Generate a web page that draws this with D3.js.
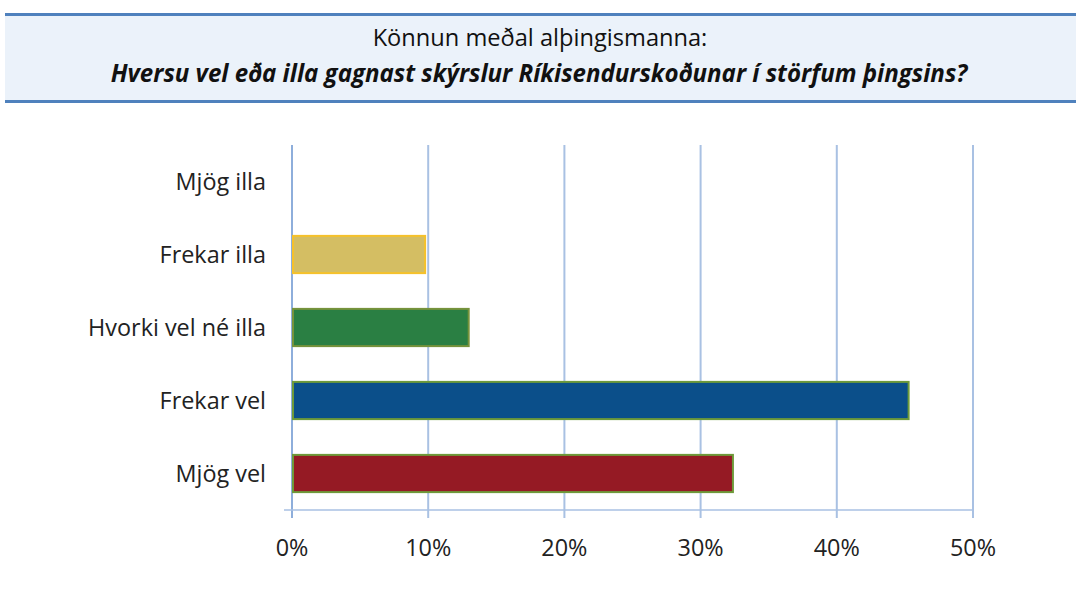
<!DOCTYPE html>
<html><head><meta charset="utf-8">
<script src="https://cdn.jsdelivr.net/npm/d3@7"></script>
<style>body{margin:0;background:#fff;} svg{display:block;font-family:"Open Sans",sans-serif;}</style>
</head><body>
<svg id="c" width="1076" height="600"></svg>
<script>
const categories = ["Mjög illa","Frekar illa","Hvorki vel né illa","Frekar vel","Mjög vel"];
const values = [0, 9.7, 12.9, 45.2, 32.3];
const colors = ["#999","#D4BE63","#2A7F43","#0B4F8A","#951A24"];
const strokes = ["#999","#F5C12B","#77933C","#6E9A3A","#6E9A3A"];
const tickValues = [0,10,20,30,40,50];
const titleLine1 = "Könnun meðal alþingismanna:";
const titleLine2 = "Hversu vel eða illa gagnast skýrslur Ríkisendurskoðunar í störfum þingsins?";

const svg = d3.select("#c");
// title box
svg.append("rect").attr("x",5).attr("y",14).attr("width",1071).attr("height",88).attr("fill","#EBF2FA");
svg.append("rect").attr("x",5).attr("y",13).attr("width",1071).attr("height",3).attr("fill","#4F81BD");
svg.append("rect").attr("x",5).attr("y",100).attr("width",1071).attr("height",3).attr("fill","#4F81BD");
const t1 = svg.append("text").attr("x",540).attr("y",46).attr("text-anchor","middle").attr("font-size",21).attr("fill","#111").text(titleLine1);
const t2 = svg.append("text").attr("x",539).attr("y",82).attr("text-anchor","middle").attr("font-size",21).attr("font-weight","bold").attr("font-style","italic").attr("fill","#111").text(titleLine2);
// fit font sizes to the reference text widths
function fit(sel, w){ const l = sel.node().getComputedTextLength(); const fs = +sel.attr("font-size"); sel.attr("font-size", fs*w/l); }
fit(t1, 335); fit(t2, 857);

const x = d3.scaleLinear().domain([0,50]).range([292,973]);
const y = d3.scaleBand().domain(categories).range([145,510]).paddingInner(0.49).paddingOuter(0.245);

// gridlines
svg.append("g").selectAll("line").data(tickValues).join("line")
  .attr("x1",d=>x(d)).attr("x2",d=>x(d)).attr("y1",145).attr("y2",d=>510+8)
  .attr("stroke",d=>d===0?"#8EAEDB":"#A9C1E3").attr("stroke-width",2);
// axis line
svg.append("line").attr("x1",284).attr("x2",x(50)).attr("y1",510).attr("y2",510).attr("stroke","#A9C1E3").attr("stroke-width",1.5);

// bars
svg.append("g").selectAll("rect").data(categories).join("rect")
  .attr("x",x(0)+1).attr("y",d=>y(d))
  .attr("width",(d,i)=>Math.max(0,x(values[i])-x(0)))
  .attr("height",y.bandwidth())
  .attr("fill",(d,i)=>colors[i]).attr("stroke",(d,i)=>strokes[i]).attr("stroke-width",2)
  .attr("display",(d,i)=>values[i]>0?null:"none");

// category labels
const labs = svg.append("g").selectAll("text").data(categories).join("text")
  .attr("x",266).attr("y",d=>y(d)+y.bandwidth()/2).attr("dy","0.35em")
  .attr("text-anchor","end").attr("font-size",19).attr("fill","#222").text(d=>d);
// scale labels so "Hvorki vel né illa" spans ~178px as in the reference
const hv = labs.filter(d=>d==="Hvorki vel né illa").node().getComputedTextLength();
const lfs = 19*178/hv;
labs.attr("font-size", lfs);

// tick labels
svg.append("g").selectAll("text").data(tickValues).join("text")
  .attr("x",d=>x(d)).attr("y",548).attr("dy","0.35em").attr("text-anchor","middle")
  .attr("font-size",lfs).attr("fill","#222").text(d=>d+"%");
</script>
</body></html>
